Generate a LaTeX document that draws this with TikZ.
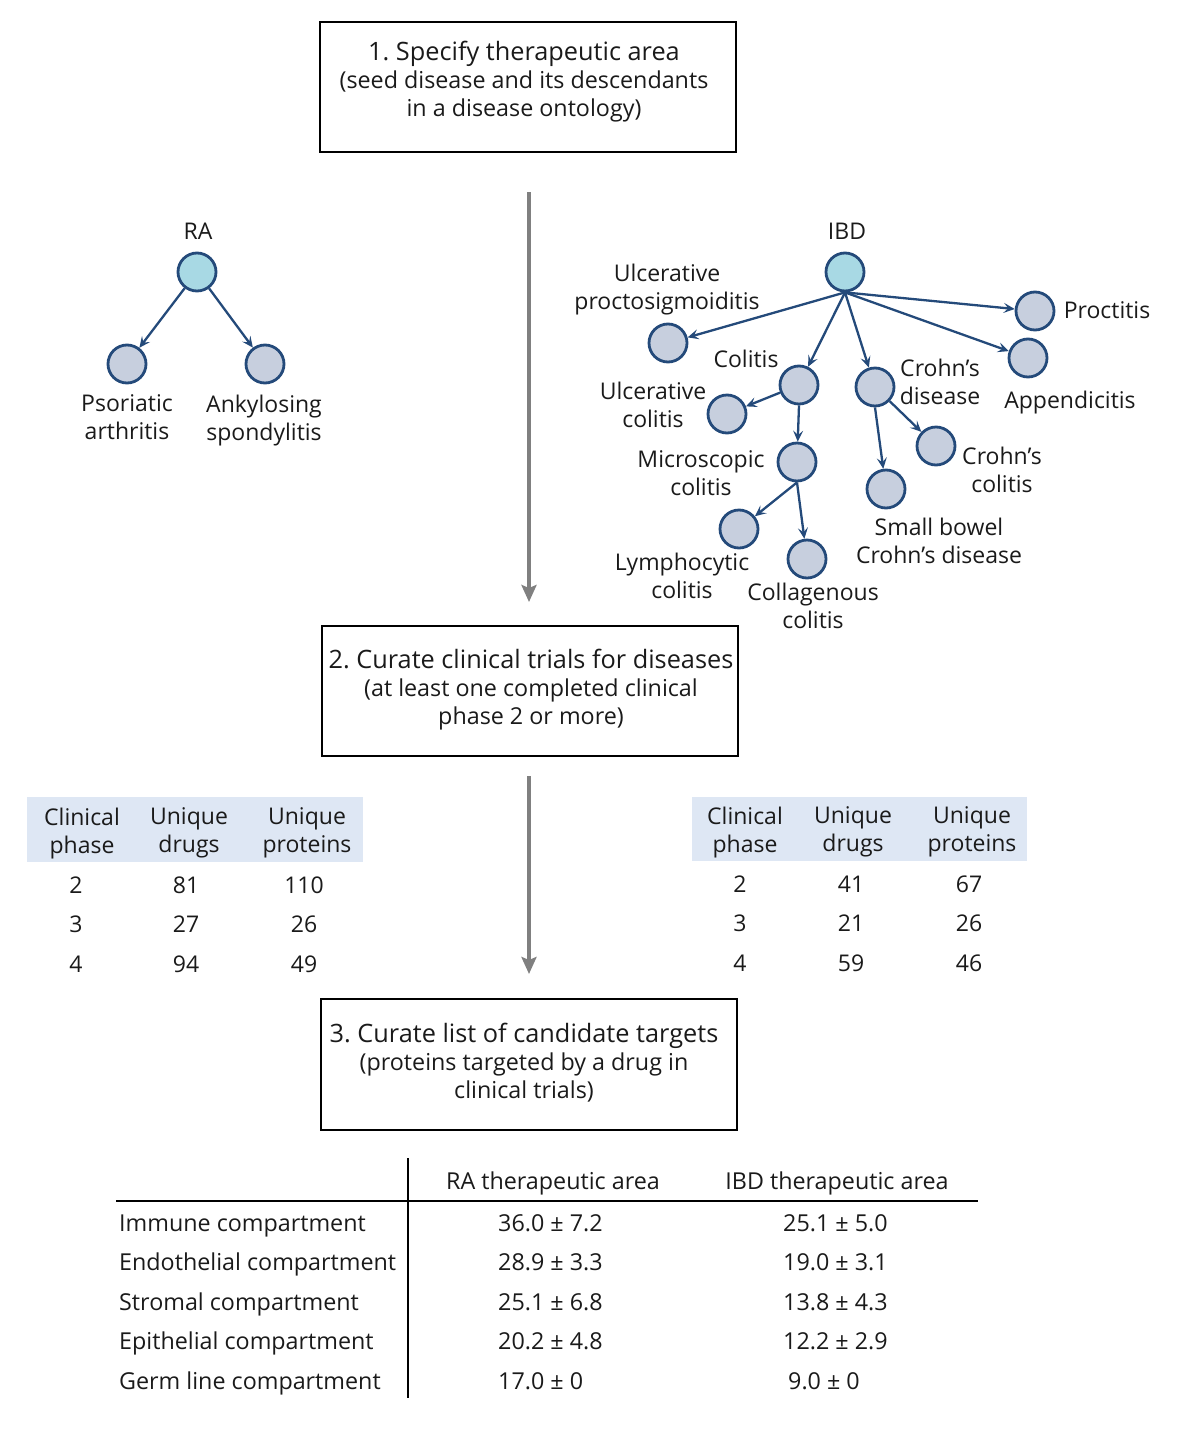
\documentclass[tikz,border=0pt]{standalone}
\usepackage{fontspec}
\setmainfont{Open Sans}
\usetikzlibrary{arrows.meta,calc}
\definecolor{treeblue}{RGB}{36,74,122}
\definecolor{rootfill}{RGB}{168,217,228}
\definecolor{kidfill}{RGB}{199,207,222}
\definecolor{hdrfill}{RGB}{222,231,244}
\definecolor{arrgray}{RGB}{128,128,128}
\definecolor{txt}{RGB}{26,26,26}
\newcommand{\bigline}[1]{{\fontsize{25.3}{28}\selectfont #1}}
\frenchspacing
\begin{document}
\begin{tikzpicture}[x=1pt,y=-1pt, font=\fontsize{23}{28}\selectfont, text=txt,
  stepbox/.style={draw=black, line width=2, minimum width=416, minimum height=130, inner sep=0},
  kid/.style={circle, draw=treeblue, line width=2.8, fill=kidfill, minimum size=38, inner sep=0},
  rootnode/.style={kid, fill=rootfill},
  lbl/.style={align=center, inner sep=0, yshift=-3.5, execute at begin node=\strut, execute at end node=\strut},
  boxtxt/.style={lbl, font=\fontsize{23.3}{28}\selectfont},
  tedge/.style={draw=treeblue, line width=2.3, -{Stealth[length=11,width=10,inset=4.5]}},
  garrow/.style={draw=arrgray, line width=3.6, -{Stealth[length=17,width=15,inset=3]}},
  cell/.style={inner sep=0, align=center, yshift=-3.5, execute at begin node=\strut, execute at end node=\strut},
  btab/.style={inner sep=0, yshift=-3.5, font=\fontsize{23.3}{28}\selectfont, execute at begin node=\strut},
]
\useasboundingbox (0,0) rectangle (1179,1440);

% ---------- step boxes ----------
\node[stepbox] (box1) at (528,86.5) {};
\node[boxtxt] (t1) at (524,80) {\bigline{1. Specify therapeutic area}\\(seed disease and its descendants\\in a disease ontology)};
\node[stepbox] (box2) at (530,691) {};
\node[boxtxt] (t2) at (531,688) {\bigline{2. Curate clinical trials for diseases}\\(at least one completed clinical\\phase 2 or more)};
\node[stepbox, minimum height=131] (box3) at (529,1064.5) {};
\node[boxtxt] (t3) at (524,1062) {\bigline{3. Curate list of candidate targets}\\(proteins targeted by a drug in\\clinical trials)};

\coordinate (a1s) at (529,192);
\coordinate (a1e) at (529,602);
\coordinate (a2s) at (529,776);
\coordinate (a2e) at (529,974);
\draw[garrow] (a1s) -- (a1e);
\draw[garrow] (a2s) -- (a2e);

% ---------- RA tree ----------
\node[lbl] (ralbl) at (198,230) {RA};
\node[rootnode] (ra) at (197,272) {};
\node[kid] (psa) at (127,364) {};
\node[kid] (as) at (265,364) {};
\node[lbl] (psalbl) at (127,418) {Psoriatic\\arthritis};
\node[lbl] (aslbl) at (264,418) {Ankylosing\\spondylitis};
\draw[tedge] (ra) -- (psa);
\draw[tedge] (ra) -- (as);

% ---------- IBD tree ----------
\node[lbl] (ibdlbl) at (847,230) {IBD};
\node[rootnode] (ibd) at (845,272) {};
\node[kid] (ups) at (668,343) {};
\node[lbl] (upslbl) at (667,287) {Ulcerative\\proctosigmoiditis};
\node[kid] (proct) at (1035,311) {};
\node[lbl] (proctlbl) at (1107,309) {Proctitis};
\node[kid] (app) at (1028,358) {};
\node[lbl] (applbl) at (1070,399) {Appendicitis};
\node[kid] (colitis) at (799,385) {};
\node[lbl] (colitislbl) at (746,358) {Colitis};
\node[kid] (cd) at (875,387) {};
\node[lbl] (cdlbl) at (940,382) {Crohn’s\\disease};
\node[kid] (uc) at (727,414) {};
\node[lbl] (uclbl) at (653,405) {Ulcerative\\colitis};
\node[kid] (mc) at (797,462) {};
\node[lbl] (mclbl) at (701,474) {Microscopic\\colitis};
\node[kid] (ccol) at (936,446) {};
\node[lbl] (ccollbl) at (1002,470) {Crohn’s\\colitis};
\node[kid] (sb) at (886,489) {};
\node[lbl] (sblbl) at (939,541) {Small bowel\\Crohn’s disease};
\node[kid] (lc) at (739,529) {};
\node[lbl] (lclbl) at (682,576) {Lymphocytic\\colitis};
\node[kid] (col) at (807,559) {};
\node[lbl] (collbl) at (813,606) {Collagenous\\colitis};

\draw[tedge] (ibd.south) -- (ups);
\draw[tedge] (ibd.south) -- (colitis);
\draw[tedge] (ibd.south) -- (cd);
\draw[tedge] (ibd.south) -- (proct);
\draw[tedge] (ibd.south) -- (app);
\draw[tedge] (colitis) -- (uc);
\draw[tedge] (colitis.south) -- (mc);
\draw[tedge] (mc.south) -- (lc);
\draw[tedge] (mc.south) -- (col);
\draw[tedge] (cd.south) -- (sb);
\draw[tedge] (cd) -- (ccol);

% ---------- left phase table ----------
\fill[hdrfill] (27,797) rectangle (363,862);
\node[cell] (lh1) at (82,831) {Clinical\\phase};
\node[cell] (lh2) at (189,831) {Unique\\drugs};
\node[cell] (lh3) at (307,831) {Unique\\proteins};
\node[cell] (l21) at (76,884) {2};
\node[cell] (l22) at (186,884) {81};
\node[cell] (l23) at (304,884) {110};
\node[cell] (l31) at (76,923) {3};
\node[cell] (l32) at (186,923) {27};
\node[cell] (l33) at (304,923) {26};
\node[cell] (l41) at (76,963) {4};
\node[cell] (l42) at (186,963) {94};
\node[cell] (l43) at (304,963) {49};

% ---------- right phase table ----------
\fill[hdrfill] (692,797) rectangle (1027,861);
\node[cell] (rh1) at (745,830) {Clinical\\phase};
\node[cell] (rh2) at (853,830) {Unique\\drugs};
\node[cell] (rh3) at (972,830) {Unique\\proteins};
\node[cell] (r21) at (740,883) {2};
\node[cell] (r22) at (851,883) {41};
\node[cell] (r23) at (969,883) {67};
\node[cell] (r31) at (740,922) {3};
\node[cell] (r32) at (851,922) {21};
\node[cell] (r33) at (969,922) {26};
\node[cell] (r41) at (740,962) {4};
\node[cell] (r42) at (851,962) {59};
\node[cell] (r43) at (969,962) {46};

% ---------- compartment table ----------
\draw[line width=1.6, black] (408,1158) -- (408,1398);
\draw[line width=2, black] (116,1201) -- (978,1201);
\node[btab] (bh1) at (553,1180) {RA therapeutic area};
\node[btab] (bh2) at (837,1180) {IBD therapeutic area};
\foreach \y/\lab/\ra/\ibd/\n in {1222/Immune compartment/36.0 ± 7.2/25.1 ± 5.0/1,
  1261/Endothelial compartment/28.9 ± 3.3/19.0 ± 3.1/2,
  1301/Stromal compartment/25.1 ± 6.8/13.8 ± 4.3/3,
  1340/Epithelial compartment/20.2 ± 4.8/12.2 ± 2.9/4}{
  \node[btab, anchor=west] (bl\n) at (119,\y) {\lab};
  \node[btab, anchor=west] (bra\n) at (498,\y) {\ra};
  \node[btab, anchor=west] (bibd\n) at (783,\y) {\ibd};
}
\node[btab, anchor=west] (bl5) at (119,1380) {Germ line compartment};
\node[btab, anchor=west] (bra5) at (498,1380) {17.0 ± 0};
\node[btab, anchor=west] (bibd5) at (788,1380) {9.0 ± 0};
\end{tikzpicture}
\end{document}
